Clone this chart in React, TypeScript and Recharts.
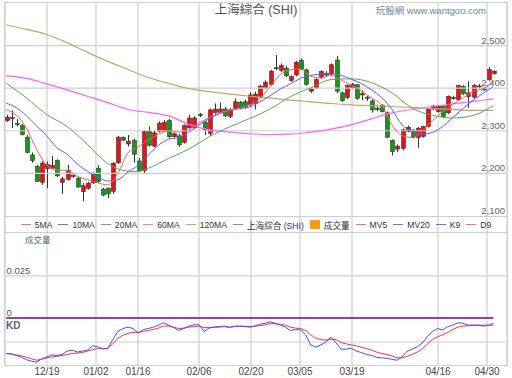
import React from "react";
import {
  ComposedChart,
  Bar,
  Line,
  XAxis,
  YAxis,
  CartesianGrid,
  ReferenceLine,
} from "recharts";

// daily candles (index = trading day)
const OPEN = [
  2324, 2331, 2317, 2312, 2285, 2243, 2216, 2179, 2211, 2212,
  2230, 2179, 2186, 2195, 2188, 2157, 2165, 2178, 2212, 2163,
  2165, 2158, 2225, 2284, 2269, 2277, 2229, 2206, 2298, 2264,
  2299, 2299, 2324, 2286, 2288, 2273, 2307, 2307, 2338, 2320,
  2294, 2343, 2343, 2351, 2334, 2353, 2367, 2368, 2362, 2364,
  2380, 2401, 2409, 2446, 2442, 2447, 2418, 2431, 2465, 2443,
  2393, 2400, 2425, 2434, 2433, 2466, 2389, 2378, 2401, 2408,
  2387, 2379, 2370, 2352, 2360, 2342, 2277, 2257, 2259, 2299,
  2301, 2284, 2287, 2310, 2351, 2345, 2357, 2342, 2376, 2373,
  2404, 2380, 2379, 2403, 2400, 2420, 2434,
];
const HIGH = [
  2338, 2348, 2328, 2316, 2290, 2249, 2220, 2229, 2228, 2241,
  2233, 2192, 2220, 2197, 2192, 2177, 2180, 2203, 2219, 2166,
  2167, 2226, 2288, 2287, 2290, 2282, 2236, 2302, 2310, 2300,
  2322, 2325, 2328, 2296, 2292, 2315, 2338, 2334, 2342, 2323,
  2352, 2364, 2366, 2356, 2353, 2376, 2370, 2372, 2390, 2392,
  2408, 2418, 2443, 2478, 2458, 2452, 2430, 2464, 2470, 2446,
  2400, 2423, 2442, 2440, 2458, 2476, 2392, 2409, 2412, 2410,
  2395, 2382, 2374, 2358, 2362, 2345, 2280, 2268, 2305, 2312,
  2304, 2309, 2312, 2354, 2361, 2360, 2360, 2383, 2382, 2408,
  2407, 2416, 2410, 2410, 2402, 2450, 2442,
];
const LOW = [
  2321, 2306, 2310, 2289, 2247, 2225, 2180, 2173, 2165, 2210,
  2191, 2152, 2183, 2190, 2166, 2134, 2162, 2175, 2177, 2146,
  2142, 2152, 2222, 2276, 2263, 2225, 2205, 2199, 2263, 2261,
  2296, 2297, 2282, 2284, 2262, 2270, 2305, 2304, 2332, 2290,
  2288, 2340, 2341, 2332, 2330, 2351, 2350, 2352, 2358, 2350,
  2377, 2398, 2406, 2442, 2438, 2426, 2415, 2428, 2442, 2406,
  2389, 2398, 2422, 2428, 2430, 2388, 2368, 2375, 2398, 2373,
  2372, 2370, 2343, 2346, 2343, 2283, 2242, 2250, 2254, 2296,
  2282, 2260, 2284, 2308, 2349, 2343, 2331, 2340, 2373, 2370,
  2384, 2354, 2376, 2399, 2394, 2417, 2432,
];
const CLOSE = [
  2332, 2329, 2315, 2291, 2249, 2230, 2181, 2224, 2221, 2219,
  2194, 2187, 2207, 2193, 2168, 2171, 2177, 2200, 2181, 2149,
  2152, 2224, 2285, 2278, 2275, 2245, 2207, 2298, 2266, 2295,
  2318, 2320, 2286, 2293, 2267, 2312, 2330, 2330, 2336, 2302,
  2349, 2351, 2351, 2335, 2349, 2368, 2353, 2355, 2384, 2386,
  2405, 2414, 2440, 2448, 2453, 2429, 2427, 2461, 2445, 2409,
  2398, 2420, 2439, 2431, 2455, 2393, 2371, 2406, 2409, 2376,
  2384, 2376, 2349, 2350, 2345, 2285, 2251, 2264, 2302, 2308,
  2285, 2306, 2310, 2351, 2358, 2357, 2334, 2381, 2378, 2406,
  2387, 2389, 2406, 2405, 2396, 2444, 2440,
];

// moving averages as [day, value] pairs
const MA5: [number, number][] = [
  [0, 2349], [2, 2337], [4, 2306], [6, 2256], [8, 2220], [10, 2208], [12, 2207],
  [14, 2193], [16, 2185], [18, 2178], [20, 2173], [22, 2200], [24, 2248],
  [26, 2262], [28, 2278], [30, 2292], [32, 2300], [34, 2297], [36, 2303],
  [38, 2318], [40, 2331], [42, 2342], [44, 2349], [46, 2353], [48, 2361],
  [50, 2375], [52, 2404], [54, 2432], [56, 2443], [58, 2445], [60, 2428],
  [62, 2424], [64, 2430], [66, 2419], [68, 2407], [70, 2393], [72, 2377],
  [74, 2360], [76, 2314], [78, 2289], [80, 2284], [82, 2300], [84, 2324],
  [86, 2344], [88, 2363], [90, 2377], [92, 2392], [94, 2399], [96, 2415],
];
const MA10: [number, number][] = [
  [0, 2365], [2, 2354], [4, 2335], [6, 2311], [8, 2288], [10, 2260], [12, 2245],
  [14, 2222], [16, 2205], [18, 2192], [20, 2182], [22, 2185], [24, 2203],
  [26, 2219], [28, 2243], [30, 2266], [32, 2280], [34, 2284], [36, 2297],
  [38, 2314], [40, 2328], [42, 2340], [44, 2347], [46, 2352], [48, 2356],
  [50, 2368], [52, 2382], [54, 2398], [56, 2410], [58, 2423], [60, 2430],
  [62, 2433], [64, 2434], [66, 2430], [68, 2421], [70, 2411], [72, 2396],
  [74, 2378], [76, 2350], [78, 2314], [80, 2298], [82, 2292], [84, 2296],
  [86, 2310], [88, 2331], [90, 2352], [92, 2372], [94, 2388], [96, 2404],
];
const MA20: [number, number][] = [
  [0, 2412], [4, 2377], [8, 2338], [12, 2310], [16, 2268], [20, 2223],
  [24, 2205], [26, 2204], [28, 2212], [32, 2235], [36, 2257], [40, 2286],
  [44, 2309], [48, 2329], [52, 2351], [56, 2380], [60, 2401], [64, 2420],
  [68, 2422], [72, 2413], [76, 2389], [80, 2353], [84, 2336], [88, 2330],
  [92, 2336], [96, 2359],
];
const MA60: [number, number][] = [
  [0, 2429], [4, 2423], [8, 2410], [12, 2396], [16, 2381], [20, 2366],
  [24, 2350], [28, 2343], [32, 2335], [36, 2315], [40, 2302], [44, 2297],
  [48, 2293], [52, 2291], [56, 2292], [60, 2297], [64, 2304], [68, 2314],
  [72, 2328], [76, 2342], [80, 2350], [84, 2357], [88, 2363], [92, 2369],
  [96, 2375],
];
const MA120: [number, number][] = [
  [0, 2549], [4, 2538], [8, 2526], [12, 2507], [16, 2484], [20, 2463],
  [24, 2444], [28, 2425], [32, 2411], [36, 2399], [40, 2392], [44, 2386],
  [48, 2381], [52, 2377], [56, 2372], [60, 2368], [64, 2364], [68, 2361],
  [72, 2359], [76, 2357], [80, 2355], [84, 2352], [88, 2350], [92, 2348],
  [96, 2348],
];

// volume panel is empty: both volume averages sit on zero
const MV5: number[] = CLOSE.map(() => 0);
const MV20: number[] = CLOSE.map(() => 0);

const K9 = [
  26, 25, 22, 18, 13, 10, 8, 15, 19, 23,
  22, 24, 31, 33, 29, 31, 33, 42, 40, 36,
  36, 55, 72, 78, 81, 78, 68, 76, 78, 81,
  85, 90, 85, 80, 74, 78, 83, 86, 86, 72,
  79, 81, 82, 83, 80, 83, 83, 82, 81, 83,
  87, 89, 92, 89, 85, 81, 74, 76, 75, 65,
  44, 39, 44, 50, 60, 48, 35, 35, 37, 31,
  28, 24, 22, 18, 17, 16, 14, 12, 19, 31,
  35, 40, 48, 61, 72, 78, 75, 82, 85, 90,
  89, 85, 85, 85, 83, 85, 89,
];
const D9 = [
  26, 25, 23, 21, 18, 15, 12, 14, 17, 19,
  20, 22, 24, 26, 27, 28, 31, 34, 36, 36,
  37, 46, 58, 64, 68, 70, 70, 72, 74, 76,
  79, 83, 83, 81, 78, 79, 81, 82, 83, 80,
  80, 81, 81, 82, 81, 82, 83, 83, 82, 83,
  84, 86, 88, 88, 87, 85, 81, 79, 78, 74,
  65, 58, 55, 54, 56, 55, 49, 46, 44, 42,
  39, 36, 33, 29, 26, 24, 21, 17, 17, 20,
  24, 29, 36, 46, 55, 61, 65, 70, 76, 81,
  83, 84, 85, 85, 85, 85, 85,
];

const TICK_POS = [8.04, 17.69, 25.97, 37.99, 48.23, 57.89, 68.14, 85.09, 94.74];
const TICK_LABELS = ["12/19", "01/02", "01/16", "02/06", "02/20", "03/05", "03/19", "04/16", "04/30"];
const PRICE_TICKS = [2100, 2200, 2300, 2400, 2500];
const VOL_TICKS = [0, 0.025];

const LEGEND = [
  { name: "5MA", color: "#ff6a6a", kind: "line" },
  { name: "10MA", color: "#6a6aff", kind: "line" },
  { name: "20MA", color: "#66aa66", kind: "line" },
  { name: "60MA", color: "#ff6aff", kind: "line" },
  { name: "120MA", color: "#c9a26a", kind: "line" },
  { name: "上海綜合 (SHI)", color: "#66aa66", kind: "line" },
  { name: "成交量", color: "#ff9a10", kind: "box" },
  { name: "MV5", color: "#ff6a6a", kind: "line" },
  { name: "MV20", color: "#6a6aff", kind: "line" },
  { name: "K9", color: "#6a6aff", kind: "line" },
  { name: "D9", color: "#ff6a6a", kind: "line" },
];

const GRID = "#cfcfcf";
const FONT = '"Liberation Sans", Arial, "Noto Sans CJK TC", sans-serif';

function sparse(pairs: [number, number][]) {
  const m: Record<number, number> = {};
  pairs.forEach(([i, v]) => (m[i] = v));
  return m;
}

const m5 = sparse(MA5);
const m10 = sparse(MA10);
const m20 = sparse(MA20);
const m60 = sparse(MA60);
const m120 = sparse(MA120);

const rows = CLOSE.map((c, i) => ({
  i,
  open: OPEN[i],
  high: HIGH[i],
  low: LOW[i],
  close: c,
  ma5: m5[i] ?? null,
  ma10: m10[i] ?? null,
  ma20: m20[i] ?? null,
  ma60: m60[i] ?? null,
  ma120: m120[i] ?? null,
  mv5: MV5[i],
  mv20: MV20[i],
  k: K9[i],
  d: D9[i],
}));

function Candle(props: any) {
  const { x, y, width, height, payload } = props;
  if (!payload || height == null) return null;
  const { open, close, high, low } = payload;
  const top = Math.min(y, y + height);
  const h = Math.abs(height);
  const span = high - low || 1;
  const py = (v: number) => top + ((high - v) / span) * h;
  const cx = Math.round(x + width / 2) + 0.5;
  const up = close >= open;
  const b1 = py(Math.max(open, close));
  const b2 = py(Math.min(open, close));
  const bh = Math.max(b2 - b1, 1);
  return (
    <g>
      <line x1={cx} x2={cx} y1={top} y2={top + h} stroke="#333" strokeWidth={1} />
      <rect
        x={cx - 2}
        y={b1}
        width={4}
        height={bh}
        fill={up ? "#ee1111" : "#119911"}
        stroke="#333"
        strokeWidth={0.6}
      />
    </g>
  );
}

const priceLabel = (v: number) => ({
  value: v.toLocaleString("en-US"),
  position: "insideBottomRight" as const,
  offset: 2,
  fill: "#666",
  fontSize: 9.5,
  fontFamily: FONT,
});

const volLabel = (v: number) => ({
  value: String(v),
  position: "insideBottomLeft" as const,
  offset: 1.5,
  fill: "#555",
  fontSize: 9.5,
  fontFamily: FONT,
});

export default function App() {
  return (
    <div
      style={{
        position: "absolute",
        left: 0,
        top: 0,
        width: 512,
        height: 378,
        background: "#fff",
        fontFamily: FONT,
        overflow: "hidden",
      }}
    >
      <ComposedChart width={512} height={378} data={rows} margin={{ top: 3, right: 5, bottom: 0, left: 5 }}>
        <CartesianGrid yAxisId="price" horizontal={false} stroke={GRID} strokeWidth={1.2} />
        <XAxis
          dataKey="i"
          type="number"
          domain={[-0.2365, 98.68]}
          allowDataOverflow
          ticks={TICK_POS}
          interval={0}
          tickFormatter={(v) => TICK_LABELS[TICK_POS.indexOf(v)] ?? ""}
          axisLine={false}
          tickLine={false}
          tickSize={0}
          tickMargin={3}
          height={13}
          tick={{ fontSize: 10, fill: "#444", fontFamily: FONT }}
        />
        <YAxis yAxisId="price" hide domain={[1750, 2600]} allowDataOverflow />
        <YAxis yAxisId="vol" hide domain={[-0.028, 0.1875]} allowDataOverflow />
        <YAxis yAxisId="kd" hide domain={[2.08, 756.25]} allowDataOverflow />

        {PRICE_TICKS.map((v) => (
          <ReferenceLine
            key={v}
            yAxisId="price"
            y={v}
            stroke={v === 2100 ? "none" : GRID}
            strokeWidth={1.2}
            label={priceLabel(v)}
          />
        ))}
        {VOL_TICKS.map((v) => (
          <ReferenceLine
            key={v}
            yAxisId="vol"
            y={v}
            stroke={v === 0 ? "none" : GRID}
            strokeWidth={1.2}
            label={volLabel(v)}
          />
        ))}
        <ReferenceLine yAxisId="kd" y={50} stroke={GRID} strokeWidth={1.2} />

        <Line yAxisId="price" dataKey="ma120" stroke="#c9a26a" strokeWidth={1.2} dot={false} type="monotone" connectNulls isAnimationActive={false} />
        <Line yAxisId="price" dataKey="ma60" stroke="#ff60ff" strokeWidth={1.2} dot={false} type="monotone" connectNulls isAnimationActive={false} />
        <Line yAxisId="price" dataKey="ma20" stroke="#5aa85a" strokeWidth={1} dot={false} type="monotone" connectNulls isAnimationActive={false} />
        <Line yAxisId="price" dataKey="ma10" stroke="#5c5cff" strokeWidth={1} dot={false} type="monotone" connectNulls isAnimationActive={false} />
        <Line yAxisId="price" dataKey="ma5" stroke="#ff5c5c" strokeWidth={1} dot={false} type="monotone" connectNulls isAnimationActive={false} />
        <Bar
          yAxisId="price"
          dataKey={(d: any) => [d.low, d.high]}
          barSize={4}
          shape={<Candle />}
          isAnimationActive={false}
        />

        <Line yAxisId="vol" dataKey="mv5" stroke="#ff2020" strokeWidth={1.6} dot={false} isAnimationActive={false} />
        <Line yAxisId="vol" dataKey="mv20" stroke="#2020ff" strokeOpacity={0.6} strokeWidth={1.6} dot={false} isAnimationActive={false} />

        <Line yAxisId="kd" dataKey="d" stroke="#ff3030" strokeWidth={1} dot={false} isAnimationActive={false} />
        <Line yAxisId="kd" dataKey="k" stroke="#4a4aff" strokeWidth={1} dot={false} isAnimationActive={false} />
      </ComposedChart>

      <div
        style={{
          position: "absolute",
          left: 4,
          top: 2,
          width: 504,
          height: 364,
          boxSizing: "border-box",
          border: `1px solid ${GRID}`,
          pointerEvents: "none",
        }}
      />

      <div
        style={{
          position: "absolute",
          left: 0,
          top: 2,
          width: 512,
          textAlign: "center",
          fontSize: 12.5,
          lineHeight: "16px",
          color: "#505050",
        }}
      >
        上海綜合 (SHI)
      </div>
      <div
        style={{
          position: "absolute",
          right: 26,
          top: 4,
          fontSize: 9.5,
          lineHeight: "13px",
          color: "#71849a",
        }}
      >
        玩股網 www.wantgoo.com
      </div>

      <div
        style={{
          position: "absolute",
          left: 5,
          top: 216,
          width: 502,
          height: 17,
          boxSizing: "border-box",
          borderTop: `1px solid ${GRID}`,
          borderBottom: `1px solid ${GRID}`,
          display: "flex",
          justifyContent: "center",
          alignItems: "center",
          fontSize: 8.6,
          color: "#333",
          whiteSpace: "nowrap",
        }}
      >
        {LEGEND.map((l, idx) => (
          <span
            key={l.name}
            style={{
              display: "inline-flex",
              alignItems: "center",
              marginRight: idx === LEGEND.length - 1 ? 0 : 6,
            }}
          >
            {l.kind === "line" ? (
              <span style={{ display: "inline-block", width: 10, height: 1.5, background: l.color }} />
            ) : (
              <span style={{ display: "inline-block", width: 10, height: 9, background: l.color }} />
            )}
            <span style={{ marginLeft: 4 }}>{l.name}</span>
          </span>
        ))}
      </div>

      <div style={{ position: "absolute", left: 25, top: 234, fontSize: 8.5, lineHeight: "12px", color: "#5a6b85" }}>
        成交量
      </div>
      <div
        style={{
          position: "absolute",
          left: 6,
          top: 320,
          fontSize: 10,
          lineHeight: "12px",
          fontWeight: "bold",
          color: "#55657f",
        }}
      >
        KD
      </div>
    </div>
  );
}
